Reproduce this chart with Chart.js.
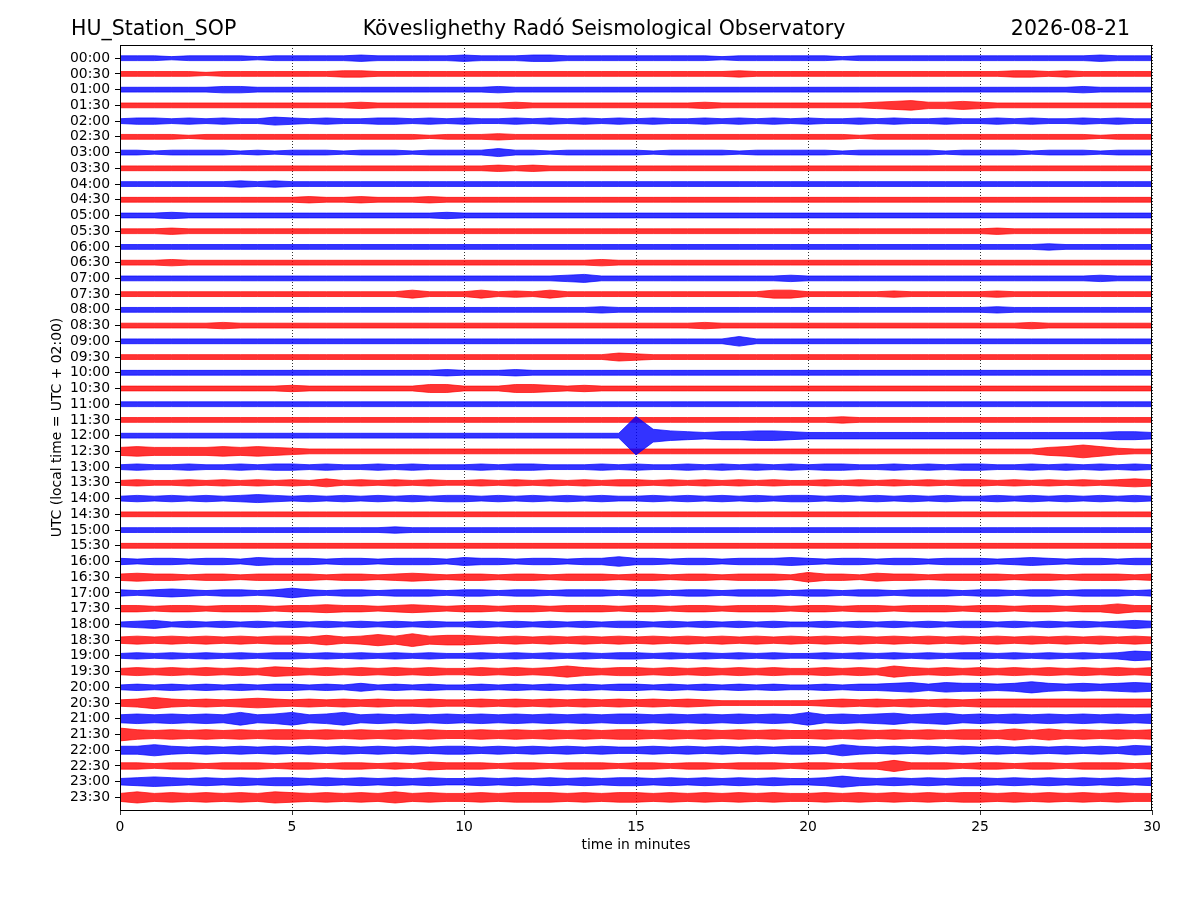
<!DOCTYPE html>
<html>
<head>
<meta charset="utf-8">
<script src="https://cdn.jsdelivr.net/npm/chart.js@4.4.1/dist/chart.umd.min.js"></script>
<style>
  html, body { margin: 0; background: #fff; }
  #wrap { width: 1200px; height: 900px; position: relative; }
</style>
</head>
<body>
<div id="wrap"><canvas id="heli"></canvas></div>
<script>
// helicorder for one day, 48 lines of 30 minutes each
const STATION = 'HU_Station_SOP';
const OBSERVATORY = 'Köveslighethy Radó Seismological Observatory';
const DAY = '2026-08-21';
const X_TITLE = 'time in minutes';
const Y_TITLE = 'UTC (local time = UTC + 02:00)';

const ROW_LABELS = [
  '00:00','00:30','01:00','01:30','02:00','02:30','03:00','03:30',
  '04:00','04:30','05:00','05:30','06:00','06:30','07:00','07:30',
  '08:00','08:30','09:00','09:30','10:00','10:30','11:00','11:30',
  '12:00','12:30','13:00','13:30','14:00','14:30','15:00','15:30',
  '16:00','16:30','17:00','17:30','18:00','18:30','19:00','19:30',
  '20:00','20:30','21:00','21:30','22:00','22:30','23:00','23:30'
];
const MINUTE_TICKS = [0, 5, 10, 15, 20, 25, 30];
const TRACE_COLORS = ['#0000ff', '#ff0000'];   // alternating blue / red lines
const TRACE_FILLS = ['rgba(0,0,255,0.8)', 'rgba(255,0,0,0.8)'];

// sample times inside a line, minutes (every 30 s)
const SAMPLE_TIMES = [
  0, 0.5, 1, 1.5, 2, 2.5, 3, 3.5, 4, 4.5, 5, 5.5, 6, 6.5, 7, 7.5, 8, 8.5, 9, 9.5,
  10, 10.5, 11, 11.5, 12, 12.5, 13, 13.5, 14, 14.5, 15, 15.5, 16, 16.5, 17, 17.5, 18, 18.5, 19, 19.5,
  20, 20.5, 21, 21.5, 22, 22.5, 23, 23.5, 24, 24.5, 25, 25.5, 26, 26.5, 27, 27.5, 28, 28.5, 29, 29.5,
  30
];

// peak amplitude per 30 s window, one base-36 char each (groups of 5 minutes)
const ENVELOPES = [
  '3332333323 3333433333 4333443333 3333323333 3323333333 3333333433 3',
  '3333323333 3334433333 3333333333 3333334333 3333333333 3344343333 3',
  '3333334433 3333333333 3343333333 3333333333 3333333333 3333334333 3',
  '3333333333 3333433333 3334333333 3333433333 3333456445 4333333333 3',
  '3443434335 4343344343 4334343434 3433434343 4334343343 3434334343 3',
  '3333233333 3333333323 3343333333 3333333333 3332333333 3333333233 3',
  '3323333232 3332333233 3353323333 3233332333 3323333323 3332333233 3',
  '3333333333 3333333333 3343433333 3333333333 3333333333 3333333333 3',
  '3333333434 3333333333 3333333333 3333333333 3333333333 3333333333 3',
  '3333333333 3433433343 3333333333 3333333333 3333333333 3333333333 3',
  '3334333333 3333333334 3333333333 3333333333 3333333333 3333333333 3',
  '3334333333 3333333333 3333333333 3333333333 3333333333 3433333333 3',
  '3333333333 3333333333 3333333333 3333333333 3333333333 3333433333 3',
  '3334333333 3333333333 3333333343 3333333333 3333333333 3333333333 3',
  '3333333333 3333333333 3333334533 3333333334 3333333333 3333333433 3',
  '3333333333 3333333533 3534353333 3333333355 3333343333 3433333333 3',
  '3333333333 3333333333 3333333343 3333333333 3333333333 3433333333 3',
  '3333334333 3333333333 3333333333 3333433333 3333333333 3334333333 3',
  '3333333333 3333333333 3333333333 3333336333 3333333333 3333333333 3',
  '3333333333 3333333333 3333333335 4333333333 3333333333 3333333333 3',
  '3333333333 3333333334 3334333333 3333333333 3333333333 3333333333 3',
  '3333333333 4333333355 3335543433 3333333333 3333333333 3333333333 3',
  '3333333333 3333333333 3333333333 3333333333 3333333333 3333333333 3',
  '3333333333 3333333333 3333333333 3333333333 3343333333 3333333333 3',
  '3333333333 3333333333 3333333333 o865455665 4444444444 4444444455 4',
  '5655556565 4333333333 3333333333 3333333333 3333333333 3333568643 3',
  '3433433434 4343343433 3434433343 4334343434 3443343434 4334343434 3',
  '3433434343 4353434343 3434343434 4343434343 3434343434 4343434345 4',
  '3434343454 3434343434 4343434343 3434343434 4343434343 3434343434 3',
  '3333333333 3333333333 3333333333 3333333333 3333333333 3333333333 3',
  '3333333333 3333334333 3333333333 3333333333 3333333333 3333333333 3',
  '3333333333 3333333333 3333333333 3333333333 3333333333 3333333333 3',
  '4344344354 4434434443 5443443446 4434434445 4344344344 4345434434 4',
  '4544344344 4434434543 4434434443 4434434443 6443544344 4434434443 4',
  '4345434434 6434434443 4434434443 4434434443 4434434443 4434434443 4',
  '4434434443 4454434543 4434434443 4434434443 4434434443 4434434464 4',
  '3453434343 4343434343 3434343434 4343434343 3434343434 4343434345 4',
  '4545454545 5464575856 6545454545 4545454545 4545454545 4545454545 4',
  '3434343434 4343434343 3434343434 4343434343 3434343434 4343434346 5',
  '4545454546 5454545454 4545457545 5454545454 4545475454 5454545454 5',
  '3434343434 4343534343 3434343434 4343434343 3434456465 5457545456 5',
  '4575454565 4545454454 4545454545 4545433333 3454545454 5555555555 5',
  '5656565856 8568565656 5656565656 6565656565 8565675675 6565656565 6',
  '8656565656 6565656565 5656565656 6565656565 5656565656 6575756565 6',
  '5575454545 4545454545 5454545454 4545454545 5475454545 4545454546 5',
  '4434434443 4434434354 4434434443 4434434443 4434474443 4434434443 4',
  '4565454545 5454545454 4545454545 5454545454 4575454545 5454545454 5',
  '5756565657 6565657565 5656665656 6565656565 5656565656 6565656565 5'
];

const GAIN = 0.8 / 15.73;   // amplitude count -> fraction of line spacing

const datasets = [];
ENVELOPES.forEach((env, row) => {
  const amp = env.replace(/ /g, '').split('').map(c => parseInt(c, 36));
  const common = {
    borderColor: TRACE_COLORS[row % 2],
    backgroundColor: TRACE_FILLS[row % 2],
    borderWidth: 0.7,
    pointRadius: 0,
    tension: 0,
    order: row % 2   // blue lines sit on top, like the original plot
  };
  datasets.push(Object.assign({
    data: SAMPLE_TIMES.map((t, i) => ({ x: t, y: row - amp[i] * GAIN })),
    fill: false
  }, common));
  datasets.push(Object.assign({
    data: SAMPLE_TIMES.map((t, i) => ({ x: t, y: row + amp[i] * GAIN })),
    fill: '-1'
  }, common));
});

const FONT = "'DejaVu Sans', sans-serif";

const frame = {
  id: 'frame',
  afterDraw(chart) {
    const { ctx, chartArea: a } = chart;
    ctx.save();
    ctx.strokeStyle = '#000';
    ctx.lineWidth = 1;
    ctx.strokeRect(a.left + 0.5, a.top + 0.5, a.right - a.left - 1, a.bottom - a.top);

    ctx.fillStyle = '#000';
    ctx.textBaseline = 'alphabetic';
    ctx.font = '20.5px ' + FONT;
    ctx.textAlign = 'left';
    ctx.fillText(STATION, 71, 35);
    ctx.textAlign = 'center';
    ctx.fillText(OBSERVATORY, 604, 35);
    ctx.textAlign = 'right';
    ctx.fillText(DAY, 1130, 35);

    ctx.font = '13.9px ' + FONT;
    ctx.textAlign = 'center';
    ctx.textBaseline = 'middle';
    ctx.fillText(X_TITLE, (a.left + a.right) / 2, 845);
    ctx.translate(57, (a.top + a.bottom) / 2);
    ctx.rotate(-Math.PI / 2);
    ctx.fillText(Y_TITLE, 0, 0);
    ctx.restore();
  }
};

new Chart(document.getElementById('heli'), {
  type: 'line',
  data: { datasets },
  plugins: [frame],
  options: {
    responsive: true,
    maintainAspectRatio: false,
    animation: false,
    events: [],
    layout: { padding: { left: 0, top: 45, right: 48, bottom: 0 } },
    plugins: { legend: { display: false }, tooltip: { enabled: false } },
    scales: {
      x: {
        type: 'linear',
        min: 0, max: 30,
        afterFit: s => { s.height = 90; },
        afterBuildTicks: s => { s.ticks = MINUTE_TICKS.map(v => ({ value: v })); },
        ticks: { color: '#000', font: { family: FONT, size: 13.9 }, padding: 4, maxRotation: 0 },
        grid: { color: '#000', lineWidth: 0.8, tickLength: 5, tickColor: '#000' },
        border: { color: '#000', dash: [1, 2] }
      },
      y: {
        type: 'linear',
        reverse: true,
        min: -0.84, max: 47.8,
        afterFit: s => { s.width = 120; },
        afterBuildTicks: s => { s.ticks = ROW_LABELS.map((_, i) => ({ value: i })); },
        ticks: {
          color: '#000', font: { family: FONT, size: 13.9 }, padding: 5, autoSkip: false,
          callback: v => ROW_LABELS[v]
        },
        grid: { drawOnChartArea: false, tickLength: 5, tickColor: '#000' },
        border: { color: '#000' }
      }
    }
  }
});
</script>
</body>
</html>
